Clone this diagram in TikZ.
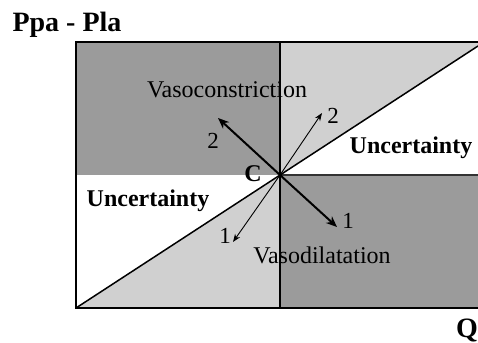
\documentclass[tikz,border=0pt]{standalone}
\usepackage{fontspec}
\setmainfont{Liberation Serif}
\usepackage{xcolor}
\usepackage{tikz}
\usetikzlibrary{arrows.meta, positioning}

\definecolor{zonedark}{RGB}{155,155,155}
\definecolor{zonelight}{RGB}{208,208,208}
\tikzset{
  lbl/.style={inner sep=0pt, anchor=base, font=\fontsize{24}{28}\selectfont},
  boldlbl/.style={lbl, font=\fontsize{24}{28}\selectfont\bfseries},
  axislbl/.style={lbl, font=\fontsize{28}{32}\selectfont\bfseries},
  numlbl/.style={lbl, font=\fontsize{23}{27}\selectfont},
  bigarrow/.style={line width=2pt, -{Stealth[length=11pt,width=9pt]}},
  smallarrow/.style={line width=0.9pt, -{Stealth[length=8pt,width=6pt]}},
}

\begin{document}
\begin{tikzpicture}[x=1pt, y=-1pt]
\useasboundingbox (0,0) rectangle (478,342);
% corners and centre point C
\coordinate (bl) at (76,308);
\coordinate (tl) at (76,42);
\coordinate (tr) at (478,42);
\coordinate (br) at (478,308);
\coordinate (c)  at (280,175);
\coordinate (diagend) at (478,46);
% shaded zones
\fill[zonedark]  (tl) rectangle (c);
\fill[zonedark]  (c) rectangle (br);
\fill[zonelight] (280,42) -- (tr) -- (diagend) -- (c) -- cycle;
\fill[zonelight] (bl) -- (c) -- (280,308) -- cycle;
% frame and axes
\draw[line width=2pt] (tr) -- (tl) -- (bl) -- (br);
\draw[line width=1.4pt] (280,42) -- (280,308);
\draw[line width=2pt, black!80] (c) -- (478,175);
\draw[line width=1.5pt] (bl) -- (diagend);
% arrow tips
\coordinate (up2)   at (218,118);
\coordinate (down1) at (337,227);
\coordinate (thinup2)   at (322,113);
\coordinate (thindown1) at (233,242);
\draw[bigarrow] (c) -- (up2);
\draw[bigarrow] (c) -- (down1);
\draw[smallarrow] (c) -- (thinup2);
\draw[smallarrow] (c) -- (thindown1);
% labels
\node[axislbl] (yaxis) at (67,32) {Ppa - Pla};
\node[axislbl] (xaxis) at (467,337) {Q};
\node[boldlbl] (clbl) at (253,181) {C};
\node[lbl] (vcon) at (227,97) {Vasoconstriction};
\node[lbl] (vdil) at (322,263) {Vasodilatation};
\node[boldlbl] (uncright) at (411,153) {Uncertainty};
\node[boldlbl] (uncleft) at (148,206) {Uncertainty};
\node[numlbl] (n2a) at (213,148) {2};
\node[numlbl] (n2b) at (333,123) {2};
\node[numlbl] (n1a) at (348,228) {1};
\node[numlbl] (n1b) at (225,243) {1};
\end{tikzpicture}
\end{document}
